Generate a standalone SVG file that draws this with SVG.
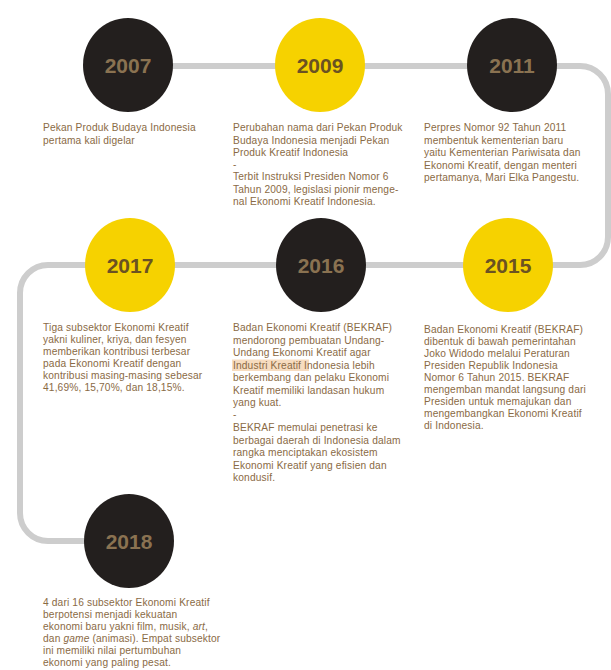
<svg xmlns="http://www.w3.org/2000/svg" width="611" height="670" viewBox="0 0 611 670">
<style>
.bg{fill:#ffffff}
.conn{fill:none;stroke:#cdcdcd;stroke-width:6;stroke-linecap:round;stroke-linejoin:round}
.dark{fill:#231f1e}
.yel{fill:#f6d200}
.yr{font-family:"Liberation Sans",Arial,sans-serif;font-weight:bold;font-size:21px;text-anchor:middle}
.yd{fill:#8a7251}
.yy{fill:#6b5222}
.d{font-family:"Liberation Sans",Arial,sans-serif;font-size:10.2px;fill:#8a6a45;letter-spacing:0.15px}
.hl{fill:#f7dcbf}
</style>
<rect class="bg" x="0" y="0" width="611" height="670"/>
<g id="connectors">
<path class="conn" d="M128,66 H580 A28,28 0 0 1 608,94 V237 A28,28 0 0 1 580,265 H48 A28,28 0 0 0 20,293 V513 A28,28 0 0 0 48,541 H129"/>
</g>
<g id="n2007">
<ellipse class="dark" cx="128" cy="65" rx="45" ry="47"/>
<text class="yr yd" x="128" y="73">2007</text>
<text class="d"><tspan x="43" y="131">Pekan Produk Budaya Indonesia</tspan><tspan x="43" y="143.5">pertama kali digelar</tspan></text>
</g>
<g id="n2009">
<ellipse class="yel" cx="320" cy="65" rx="45" ry="47"/>
<text class="yr yy" x="320" y="73">2009</text>
<text class="d"><tspan x="233" y="131">Perubahan nama dari Pekan Produk</tspan><tspan x="233" y="143.5">Budaya Indonesia menjadi Pekan</tspan><tspan x="233" y="156">Produk Kreatif Indonesia</tspan><tspan x="233" y="168">-</tspan><tspan x="233" y="180">Terbit Instruksi Presiden Nomor 6</tspan><tspan x="233" y="192.5">Tahun 2009, legislasi pionir menge-</tspan><tspan x="233" y="205">nal Ekonomi Kreatif Indonesia.</tspan></text>
</g>
<g id="n2011">
<ellipse class="dark" cx="512" cy="65" rx="45" ry="47"/>
<text class="yr yd" x="512" y="73">2011</text>
<text class="d"><tspan x="424" y="131">Perpres Nomor 92 Tahun 2011</tspan><tspan x="424" y="143.5">membentuk kementerian baru</tspan><tspan x="424" y="156">yaitu Kementerian Pariwisata dan</tspan><tspan x="424" y="168.5">Ekonomi Kreatif, dengan menteri</tspan><tspan x="424" y="181">pertamanya, Mari Elka Pangestu.</tspan></text>
</g>
<g id="n2017">
<ellipse class="yel" cx="130" cy="265" rx="45" ry="47"/>
<text class="yr yy" x="130" y="273">2017</text>
<text class="d"><tspan x="43" y="331">Tiga subsektor Ekonomi Kreatif</tspan><tspan x="43" y="343">yakni kuliner, kriya, dan fesyen</tspan><tspan x="43" y="355">memberikan kontribusi terbesar</tspan><tspan x="43" y="367">pada Ekonomi Kreatif dengan</tspan><tspan x="43" y="379">kontribusi masing-masing sebesar</tspan><tspan x="43" y="391">41,69%, 15,70%, dan 18,15%.</tspan></text>
</g>
<g id="n2016">
<ellipse class="dark" cx="321" cy="265" rx="45" ry="47"/>
<text class="yr yd" x="321" y="273">2016</text>
<rect class="hl" x="232" y="359.5" width="77" height="11.5"/>
<text class="d"><tspan x="233" y="331">Badan Ekonomi Kreatif (BEKRAF)</tspan><tspan x="233" y="343.5">mendorong pembuatan Undang-</tspan><tspan x="233" y="356">Undang Ekonomi Kreatif agar</tspan><tspan x="233" y="368.5">Industri Kreatif Indonesia lebih</tspan><tspan x="233" y="381">berkembang dan pelaku Ekonomi</tspan><tspan x="233" y="393.5">Kreatif memiliki landasan hukum</tspan><tspan x="233" y="406">yang kuat.</tspan><tspan x="233" y="418">-</tspan><tspan x="233" y="431">BEKRAF memulai penetrasi ke</tspan><tspan x="233" y="443.5">berbagai daerah di Indonesia dalam</tspan><tspan x="233" y="456">rangka menciptakan ekosistem</tspan><tspan x="233" y="468.5">Ekonomi Kreatif yang efisien dan</tspan><tspan x="233" y="481">kondusif.</tspan></text>
</g>
<g id="n2015">
<ellipse class="yel" cx="508" cy="265" rx="45" ry="47"/>
<text class="yr yy" x="508" y="273">2015</text>
<text class="d"><tspan x="424" y="333">Badan Ekonomi Kreatif (BEKRAF)</tspan><tspan x="424" y="345">dibentuk di bawah pemerintahan</tspan><tspan x="424" y="357">Joko Widodo melalui Peraturan</tspan><tspan x="424" y="369">Presiden Republik Indonesia</tspan><tspan x="424" y="381">Nomor 6 Tahun 2015. BEKRAF</tspan><tspan x="424" y="393">mengemban mandat langsung dari</tspan><tspan x="424" y="405">Presiden untuk memajukan dan</tspan><tspan x="424" y="417">mengembangkan Ekonomi Kreatif</tspan><tspan x="424" y="429">di Indonesia.</tspan></text>
</g>
<g id="n2018">
<ellipse class="dark" cx="129" cy="541" rx="45" ry="47"/>
<text class="yr yd" x="129" y="549">2018</text>
<text class="d"><tspan x="43" y="606">4 dari 16 subsektor Ekonomi Kreatif</tspan><tspan x="43" y="618">berpotensi menjadi kekuatan</tspan><tspan x="43" y="630">ekonomi baru yakni film, musik, <tspan font-style="italic">art</tspan>,</tspan><tspan x="43" y="642">dan <tspan font-style="italic">game</tspan> (animasi). Empat subsektor</tspan><tspan x="43" y="654">ini memiliki nilai pertumbuhan</tspan><tspan x="43" y="666">ekonomi yang paling pesat.</tspan></text>
</g>
</svg>
